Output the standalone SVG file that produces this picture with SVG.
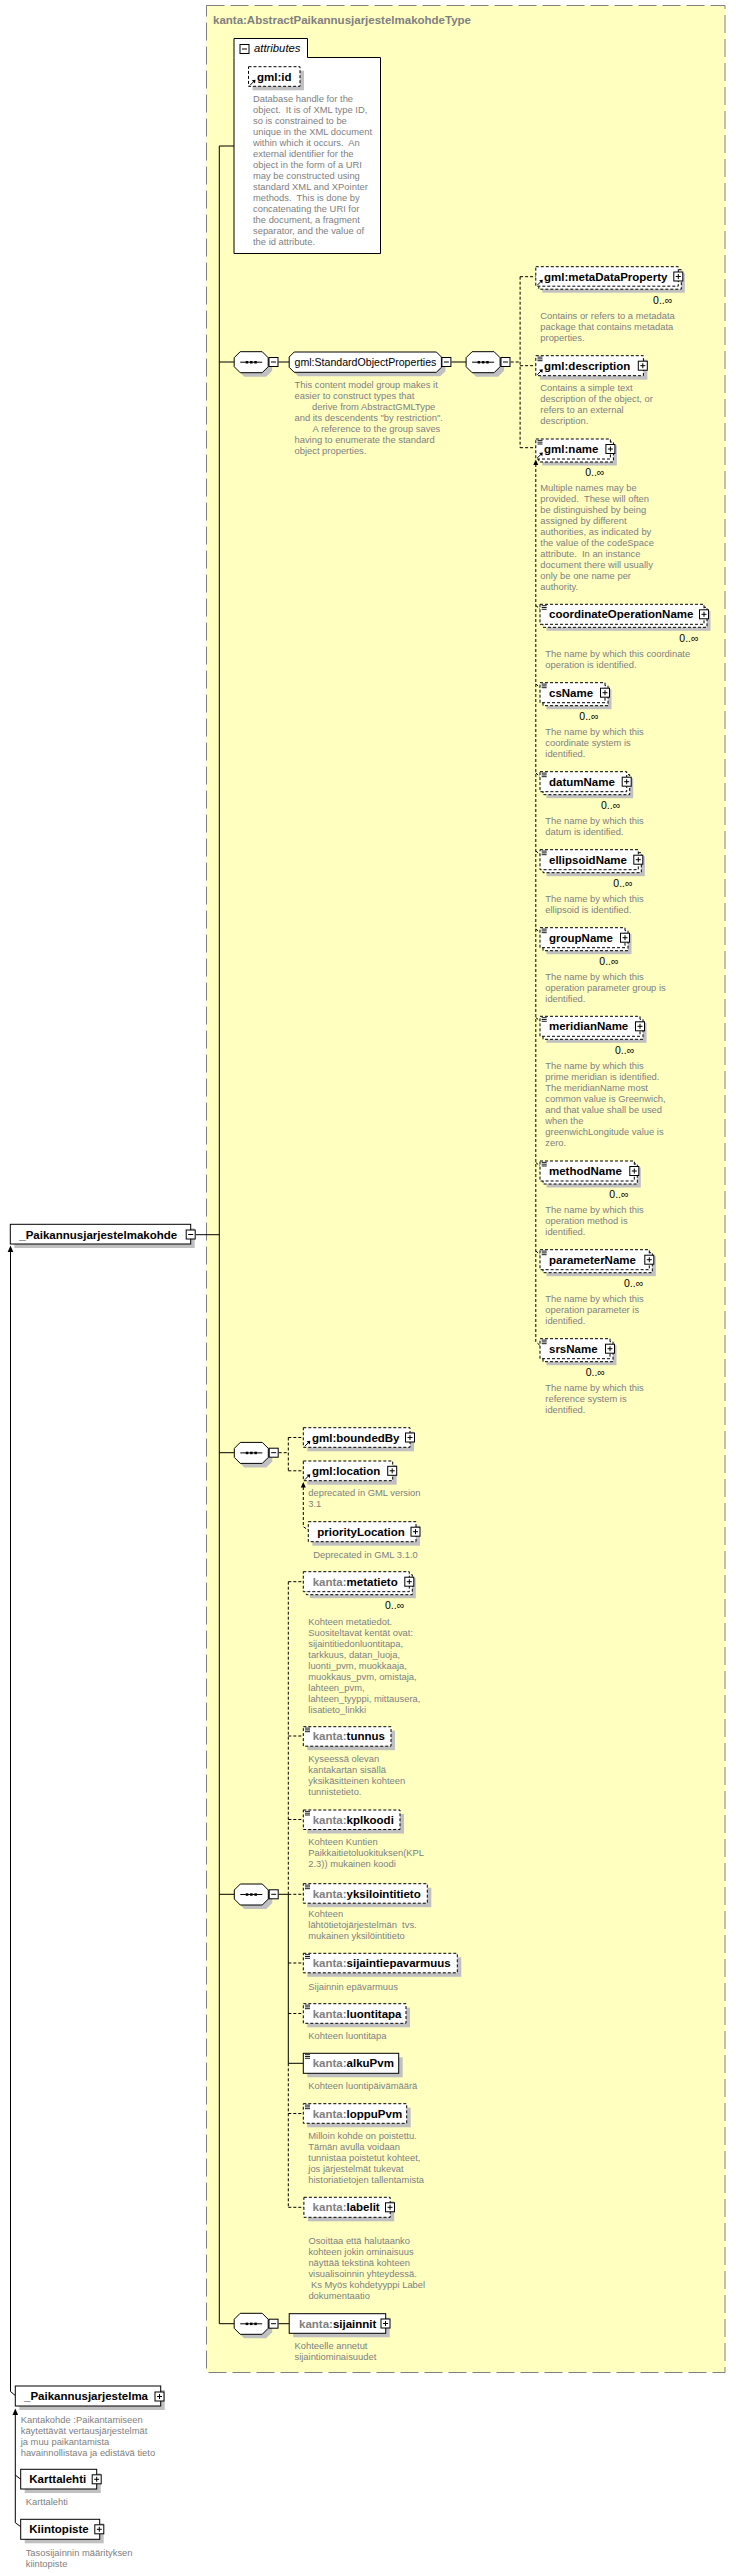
<svg xmlns="http://www.w3.org/2000/svg" width="736" height="2573" viewBox="0 0 736 2573">
<style>
text{font-family:"Liberation Sans",Arial,sans-serif}
.lbl{font-size:11.5px;font-weight:bold;fill:#000}
.pre{fill:#808080}
.grp{font-size:10.6px;fill:#000}
.doc{font-size:9.4px;fill:#808080;white-space:pre}
.mult{font-size:10.5px;fill:#000}
.hdr{font-size:11.5px;font-weight:bold;fill:#808080}
.att{font-size:11.3px;font-style:italic;fill:#000}
.bx{fill:#fff;stroke:#000;stroke-width:1}
.opt{stroke-dasharray:3 2}
.sh{fill:#c0c0c0}
.c{fill:none;stroke:#000;stroke-width:1}
.d{stroke-dasharray:3 2}
</style>
<defs>
<g id="plus"><rect x="0.5" y="0.5" width="9" height="9" fill="#fff" stroke="#000"/><path d="M2.5,5H7.5M5,2.5V7.5" stroke="#000"/></g>
<g id="minus"><rect x="0.5" y="0.5" width="9" height="9" fill="#fff" stroke="#000"/><path d="M2.5,5H7.5" stroke="#000"/></g>
<g id="seq"><polygon transform="translate(4,4)" points="6,0 28,0 34,6 34,15 28,21 6,21 0,15 0,6" fill="#c0c0c0"/><polygon points="6,0 28,0 34,6 34,15 28,21 6,21 0,15 0,6" fill="#fff" stroke="#000"/><path d="M6,10.5H28" stroke="#000"/><rect x="11.5" y="9.3" width="2.5" height="2.5"/><rect x="15.8" y="9.3" width="2.5" height="2.5"/><rect x="20.1" y="9.3" width="2.5" height="2.5"/></g>
<g id="ref"><path d="M0.5,6 L4.5,2" stroke="#000" fill="none"/><polygon points="6,0.5 2.3,1 5.5,4.2"/></g>
<g id="docic"><path d="M0,0.7H5M0,2.5H5M0,4.3H5" stroke="#000" stroke-width="0.9"/></g>
</defs>

<g id="typebox">
<rect x="206.5" y="5.5" width="518.5" height="2367" fill="#FFFFC0" stroke="#808080" stroke-dasharray="18 6"/>
<text class="hdr" x="213" y="23.5">kanta:AbstractPaikannusjarjestelmakohdeType</text>
</g>

<g id="connectors">
<path class="c" d="M234,146H219.3V2323.7H234.2"/>
<path class="c" d="M219.3,362H234.2M278.4,362H289.2M451.4,362H466.1"/>
<path class="c" d="M195.7,1234.7H219.3M219.3,1452.7H234.3M219.3,1894.3H234.3"/>
<path class="c" d="M278.7,1894.3H288.3V2063.3H303.3"/>
<path class="c" d="M278.4,2323.7H289.2"/>
<path class="c d" d="M510.7,362H520.1M520.1,276.7V447.7M520.1,276.7H535.8M520.1,365.7H535.8M520.1,447.7H535.8"/>
<path class="c d" d="M535.8,464V1341.7L540,1345.5M535.8,605.5L540,609M535.8,684L540,687.5M535.8,773L540,776.5M535.8,851L540,854.5M535.8,929L540,932.5M535.8,1017.5L540,1021M535.8,1162.5L540,1166M535.8,1251L540,1254.5"/>
<polygon points="535.8,459.5 533.3,465 538.3,465"/>
<path class="c d" d="M278.7,1452.7H288.3M288.3,1437.5V1470.8M288.3,1437.5H303.3M288.3,1470.8H303.3"/>
<path class="c d" d="M303.3,1487V1526.7L308.3,1530"/>
<polygon points="303.3,1482 300.8,1487.5 305.8,1487.5"/>
<path class="c d" d="M288.3,1581.7V1894.3M288.3,2063.3V2207.3M288.3,1581.7H303.3M288.3,1736H303.3M288.3,1819.5H303.3M288.3,1894.3H303.3M288.3,1963H303.3M288.3,2013.5H303.3M288.3,2113.5H303.3M288.3,2207.3H303.9"/>
<path class="c" d="M10.5,1250V2391.5L15.3,2395.5"/>
<polygon points="10.5,1245.5 7.7,1252 13.3,1252"/>
<path class="c" d="M15.3,2414V2522.7L20.7,2526.7M15.3,2475L20.7,2479.3"/>
<polygon points="15.3,2408.5 12.5,2415 18.1,2415"/>
</g>

<g id="attributes">
<path class="bx" d="M234,57.5V38.5H307.5V57.5H380.5V253.5H234Z"/>
<use href="#minus" x="239.5" y="44"/>
<text class="att" x="254" y="52">attributes</text>
</g>

<g id="n-gml-id">
<rect class="sh" x="252.5" y="70.7" width="51.5" height="19.6"/>
<rect class="bx opt" x="248.5" y="66.7" width="51.5" height="19.6"/>
<use href="#ref" x="249.5" y="79.3"/>
<text class="lbl" x="257" y="80.7">gml:id</text>
<text class="doc" x="253" y="101.8"><tspan x="253" dy="0">Database handle for the</tspan><tspan x="253" dy="11">object.  It is of XML type ID,</tspan><tspan x="253" dy="11">so is constrained to be</tspan><tspan x="253" dy="11">unique in the XML document</tspan><tspan x="253" dy="11">within which it occurs.  An</tspan><tspan x="253" dy="11">external identifier for the</tspan><tspan x="253" dy="11">object in the form of a URI</tspan><tspan x="253" dy="11">may be constructed using</tspan><tspan x="253" dy="11">standard XML and XPointer</tspan><tspan x="253" dy="11">methods.  This is done by</tspan><tspan x="253" dy="11">concatenating the URI for</tspan><tspan x="253" dy="11">the document, a fragment</tspan><tspan x="253" dy="11">separator, and the value of</tspan><tspan x="253" dy="11">the id attribute.</tspan></text>
</g>

<g id="seq1">
<use href="#seq" x="234.2" y="351.7"/>
<use href="#minus" x="268.5" y="357"/>
</g>

<g id="n-StandardObjectProperties">
<polygon transform="translate(4,4)" class="sh" points="294.2,352 436.4,352 441.4,357 441.4,367.3 436.4,372.3 294.2,372.3 289.2,367.3 289.2,357"/>
<polygon class="bx" points="294.2,352 436.4,352 441.4,357 441.4,367.3 436.4,372.3 294.2,372.3 289.2,367.3 289.2,357"/>
<use href="#minus" x="441.4" y="357"/>
<text class="grp" x="294.5" y="366">gml:StandardObjectProperties</text>
<text class="doc" x="294.5" y="388.2"><tspan x="294.5" dy="0">This content model group makes it</tspan><tspan x="294.5" dy="11">easier to construct types that</tspan><tspan x="312" dy="11">derive from AbstractGMLType</tspan><tspan x="294.5" dy="11">and its descendents "by restriction".</tspan><tspan x="312.6" dy="11">A reference to the group saves</tspan><tspan x="294.5" dy="11">having to enumerate the standard</tspan><tspan x="294.5" dy="11">object properties.</tspan></text>
</g>

<g id="seq2">
<use href="#seq" x="466.1" y="351.7"/>
<use href="#minus" x="500.5" y="357"/>
</g>

<g id="n-metaDataProperty">
<rect class="sh" x="542.3" y="273.2" width="142.5" height="19.5"/>
<rect class="bx opt" x="538.8" y="269.7" width="142.5" height="19.5"/>
<rect class="bx opt" x="535.8" y="266.7" width="142.5" height="19.5"/>
<use href="#ref" x="536.8" y="279.2"/>
<use href="#plus" x="673.3" y="271.5"/>
<text class="lbl" x="544.1" y="280.7">gml:metaDataProperty</text>
<text class="mult" x="653.1" y="303.8">0..∞</text>
<text class="doc" x="540.3" y="318.8"><tspan x="540.3" dy="0">Contains or refers to a metadata</tspan><tspan x="540.3" dy="11">package that contains metadata</tspan><tspan x="540.3" dy="11">properties.</tspan></text>
</g>

<g id="n-description">
<rect class="sh" x="539.8" y="359.7" width="107.6" height="20"/>
<rect class="bx opt" x="535.8" y="355.7" width="107.6" height="20"/>
<use href="#docic" x="537.5" y="356.4"/>
<use href="#ref" x="536.8" y="368.7"/>
<use href="#plus" x="637.8" y="360.7"/>
<text class="lbl" x="544.1" y="369.7">gml:description</text>
<text class="doc" x="540.3" y="391.2"><tspan x="540.3" dy="0">Contains a simple text</tspan><tspan x="540.3" dy="11">description of the object, or</tspan><tspan x="540.3" dy="11">refers to an external</tspan><tspan x="540.3" dy="11">description.</tspan></text>
</g>

<g id="n-name">
<rect class="sh" x="542.3" y="445.5" width="74.6" height="20"/>
<rect class="bx opt" x="538.8" y="442" width="74.6" height="20"/>
<rect class="bx opt" x="535.8" y="439" width="74.6" height="20"/>
<use href="#docic" x="537.5" y="439.7"/>
<use href="#ref" x="536.8" y="452"/>
<use href="#plus" x="605.4" y="444"/>
<text class="lbl" x="544.1" y="453">gml:name</text>
<text class="mult" x="585.2" y="476.1">0..∞</text>
<text class="doc" x="540.3" y="491.2"><tspan x="540.3" dy="0">Multiple names may be</tspan><tspan x="540.3" dy="11">provided.  These will often</tspan><tspan x="540.3" dy="11">be distinguished by being</tspan><tspan x="540.3" dy="11">assigned by different</tspan><tspan x="540.3" dy="11">authorities, as indicated by</tspan><tspan x="540.3" dy="11">the value of the codeSpace</tspan><tspan x="540.3" dy="11">attribute.  In an instance</tspan><tspan x="540.3" dy="11">document there will usually</tspan><tspan x="540.3" dy="11">only be one name per</tspan><tspan x="540.3" dy="11">authority.</tspan></text>
</g>

<g id="n-coordinateOperationName">
<rect class="sh" x="546.5" y="610.8" width="164" height="20"/>
<rect class="bx opt" x="543" y="607.3" width="164" height="20"/>
<rect class="bx opt" x="540" y="604.3" width="164" height="20"/>
<use href="#docic" x="541.7" y="605"/>
<use href="#plus" x="699" y="609.3"/>
<text class="lbl" x="549" y="618.3">coordinateOperationName</text>
<text class="mult" x="679.3" y="642.1">0..∞</text>
<text class="doc" x="545.3" y="656.8"><tspan x="545.3" dy="0">The name by which this coordinate</tspan><tspan x="545.3" dy="11">operation is identified.</tspan></text>
</g>

<g id="n-csName">
<rect class="sh" x="546.5" y="689.2" width="65" height="20"/>
<rect class="bx opt" x="543" y="685.7" width="65" height="20"/>
<rect class="bx opt" x="540" y="682.7" width="65" height="20"/>
<use href="#docic" x="541.7" y="683.4"/>
<use href="#plus" x="600" y="687.7"/>
<text class="lbl" x="549" y="696.7">csName</text>
<text class="mult" x="579.3" y="719.5">0..∞</text>
<text class="doc" x="545.3" y="735.2"><tspan x="545.3" dy="0">The name by which this</tspan><tspan x="545.3" dy="11">coordinate system is</tspan><tspan x="545.3" dy="11">identified.</tspan></text>
</g>

<g id="n-datumName">
<rect class="sh" x="546.5" y="778.2" width="86.7" height="20"/>
<rect class="bx opt" x="543" y="774.7" width="86.7" height="20"/>
<rect class="bx opt" x="540" y="771.7" width="86.7" height="20"/>
<use href="#docic" x="541.7" y="772.4"/>
<use href="#plus" x="621.7" y="776.7"/>
<text class="lbl" x="549" y="785.7">datumName</text>
<text class="mult" x="601" y="808.8">0..∞</text>
<text class="doc" x="545.3" y="823.8"><tspan x="545.3" dy="0">The name by which this</tspan><tspan x="545.3" dy="11">datum is identified.</tspan></text>
</g>

<g id="n-ellipsoidName">
<rect class="sh" x="546.5" y="856.2" width="98.3" height="20"/>
<rect class="bx opt" x="543" y="852.7" width="98.3" height="20"/>
<rect class="bx opt" x="540" y="849.7" width="98.3" height="20"/>
<use href="#docic" x="541.7" y="850.4"/>
<use href="#plus" x="633.3" y="854.7"/>
<text class="lbl" x="549" y="863.7">ellipsoidName</text>
<text class="mult" x="613.3" y="886.8">0..∞</text>
<text class="doc" x="545.3" y="901.8"><tspan x="545.3" dy="0">The name by which this</tspan><tspan x="545.3" dy="11">ellipsoid is identified.</tspan></text>
</g>

<g id="n-groupName">
<rect class="sh" x="546.5" y="934.2" width="85" height="20"/>
<rect class="bx opt" x="543" y="930.7" width="85" height="20"/>
<rect class="bx opt" x="540" y="927.7" width="85" height="20"/>
<use href="#docic" x="541.7" y="928.4"/>
<use href="#plus" x="620" y="932.7"/>
<text class="lbl" x="549" y="941.7">groupName</text>
<text class="mult" x="599.3" y="964.8">0..∞</text>
<text class="doc" x="545.3" y="980.2"><tspan x="545.3" dy="0">The name by which this</tspan><tspan x="545.3" dy="11">operation parameter group is</tspan><tspan x="545.3" dy="11">identified.</tspan></text>
</g>

<g id="n-meridianName">
<rect class="sh" x="546.5" y="1022.8" width="100" height="20"/>
<rect class="bx opt" x="543" y="1019.3" width="100" height="20"/>
<rect class="bx opt" x="540" y="1016.3" width="100" height="20"/>
<use href="#docic" x="541.7" y="1017"/>
<use href="#plus" x="635" y="1021.3"/>
<text class="lbl" x="549" y="1030.3">meridianName</text>
<text class="mult" x="615" y="1053.8">0..∞</text>
<text class="doc" x="545.3" y="1069.2"><tspan x="545.3" dy="0">The name by which this</tspan><tspan x="545.3" dy="11">prime meridian is identified.</tspan><tspan x="545.3" dy="11">The meridianName most</tspan><tspan x="545.3" dy="11">common value is Greenwich,</tspan><tspan x="545.3" dy="11">and that value shall be used</tspan><tspan x="545.3" dy="11">when the</tspan><tspan x="545.3" dy="11">greenwichLongitude value is</tspan><tspan x="545.3" dy="11">zero.</tspan></text>
</g>

<g id="n-methodName">
<rect class="sh" x="546.5" y="1167.5" width="94.3" height="20"/>
<rect class="bx opt" x="543" y="1164" width="94.3" height="20"/>
<rect class="bx opt" x="540" y="1161" width="94.3" height="20"/>
<use href="#docic" x="541.7" y="1161.7"/>
<use href="#plus" x="629.3" y="1166"/>
<text class="lbl" x="549" y="1175">methodName</text>
<text class="mult" x="609.3" y="1197.8">0..∞</text>
<text class="doc" x="545.3" y="1212.8"><tspan x="545.3" dy="0">The name by which this</tspan><tspan x="545.3" dy="11">operation method is</tspan><tspan x="545.3" dy="11">identified.</tspan></text>
</g>

<g id="n-parameterName">
<rect class="sh" x="546.5" y="1256.2" width="109.3" height="20"/>
<rect class="bx opt" x="543" y="1252.7" width="109.3" height="20"/>
<rect class="bx opt" x="540" y="1249.7" width="109.3" height="20"/>
<use href="#docic" x="541.7" y="1250.4"/>
<use href="#plus" x="644.3" y="1254.7"/>
<text class="lbl" x="549" y="1263.7">parameterName</text>
<text class="mult" x="624" y="1286.5">0..∞</text>
<text class="doc" x="545.3" y="1301.8"><tspan x="545.3" dy="0">The name by which this</tspan><tspan x="545.3" dy="11">operation parameter is</tspan><tspan x="545.3" dy="11">identified.</tspan></text>
</g>

<g id="n-srsName">
<rect class="sh" x="546.5" y="1345.2" width="70" height="20"/>
<rect class="bx opt" x="543" y="1341.7" width="70" height="20"/>
<rect class="bx opt" x="540" y="1338.7" width="70" height="20"/>
<use href="#docic" x="541.7" y="1339.4"/>
<use href="#plus" x="605" y="1343.7"/>
<text class="lbl" x="549" y="1352.7">srsName</text>
<text class="mult" x="585.7" y="1375.5">0..∞</text>
<text class="doc" x="545.3" y="1390.8"><tspan x="545.3" dy="0">The name by which this</tspan><tspan x="545.3" dy="11">reference system is</tspan><tspan x="545.3" dy="11">identified.</tspan></text>
</g>

<g id="n-Paikannusjarjestelmakohde">
<rect class="sh" x="14.3" y="1228.3" width="180.4" height="19.7"/>
<rect class="bx" x="10.3" y="1224.3" width="180.4" height="19.7"/>
<use href="#minus" x="185.7" y="1229.5"/>
<text class="lbl" x="19.3" y="1238.5">_Paikannusjarjestelmakohde</text>
</g>

<g id="seq3">
<use href="#seq" x="234.3" y="1442.4"/>
<use href="#minus" x="268.7" y="1447.7"/>
</g>

<g id="n-boundedBy">
<rect class="sh" x="307.3" y="1431.7" width="106.7" height="19.6"/>
<rect class="bx opt" x="303.3" y="1427.7" width="106.7" height="19.6"/>
<use href="#ref" x="304.3" y="1440.3"/>
<use href="#plus" x="405" y="1432.5"/>
<text class="lbl" x="312" y="1441.6">gml:boundedBy</text>
</g>

<g id="n-location">
<rect class="sh" x="307.3" y="1465" width="89.4" height="19.7"/>
<rect class="bx opt" x="303.3" y="1461" width="89.4" height="19.7"/>
<use href="#ref" x="304.3" y="1473.7"/>
<use href="#plus" x="387.2" y="1465.8"/>
<text class="lbl" x="312" y="1475">gml:location</text>
<text class="doc" x="308.3" y="1495.8"><tspan x="308.3" dy="0">deprecated in GML version</tspan><tspan x="308.3" dy="11">3.1</tspan></text>
</g>

<g id="n-priorityLocation">
<rect class="sh" x="312.3" y="1525.7" width="107.7" height="20"/>
<rect class="bx opt" x="308.3" y="1521.7" width="107.7" height="20"/>
<use href="#plus" x="410.5" y="1526.7"/>
<text class="lbl" x="317.3" y="1535.7">priorityLocation</text>
<text class="doc" x="313.3" y="1557.5">Deprecated in GML 3.1.0</text>
</g>

<g id="n-metatieto">
<rect class="sh" x="309.8" y="1578.2" width="106" height="20"/>
<rect class="bx opt" x="306.3" y="1574.7" width="106" height="20"/>
<rect class="bx opt" x="303.3" y="1571.7" width="106" height="20"/>
<use href="#plus" x="404.3" y="1576.7"/>
<text class="lbl" x="312.7" y="1585.7"><tspan class="pre">kanta:</tspan>metatieto</text>
<text class="mult" x="385" y="1608.8">0..∞</text>
<text class="doc" x="308.3" y="1624.5"><tspan x="308.3" dy="0">Kohteen metatiedot.</tspan><tspan x="308.3" dy="11">Suositeltavat kentät ovat:</tspan><tspan x="308.3" dy="11">sijaintitiedonluontitapa,</tspan><tspan x="308.3" dy="11">tarkkuus, datan_luoja,</tspan><tspan x="308.3" dy="11">luonti_pvm, muokkaaja,</tspan><tspan x="308.3" dy="11">muokkaus_pvm, omistaja,</tspan><tspan x="308.3" dy="11">lahteen_pvm,</tspan><tspan x="308.3" dy="11">lahteen_tyyppi, mittausera,</tspan><tspan x="308.3" dy="11">lisatieto_linkki</tspan></text>
</g>

<g id="n-tunnus">
<rect class="sh" x="307.3" y="1730.7" width="87.7" height="19.5"/>
<rect class="bx opt" x="303.3" y="1726.7" width="87.7" height="19.5"/>
<use href="#docic" x="305" y="1727.4"/>
<text class="lbl" x="312.7" y="1740.3"><tspan class="pre">kanta:</tspan>tunnus</text>
<text class="doc" x="308.3" y="1762.2"><tspan x="308.3" dy="0">Kyseessä olevan</tspan><tspan x="308.3" dy="11">kantakartan sisällä</tspan><tspan x="308.3" dy="11">yksikäsitteinen kohteen</tspan><tspan x="308.3" dy="11">tunnistetieto.</tspan></text>
</g>

<g id="n-kplkoodi">
<rect class="sh" x="307.3" y="1814" width="96.7" height="19.5"/>
<rect class="bx opt" x="303.3" y="1810" width="96.7" height="19.5"/>
<use href="#docic" x="305" y="1810.7"/>
<text class="lbl" x="312.7" y="1823.7"><tspan class="pre">kanta:</tspan>kplkoodi</text>
<text class="doc" x="308.3" y="1844.8"><tspan x="308.3" dy="0">Kohteen Kuntien</tspan><tspan x="308.3" dy="11">Paikkaitietoluokituksen(KPL</tspan><tspan x="308.3" dy="11">2.3)) mukainen koodi</tspan></text>
</g>

<g id="seq4">
<use href="#seq" x="234.3" y="1884"/>
<use href="#minus" x="268.7" y="1889.3"/>
</g>

<g id="n-yksilointitieto">
<rect class="sh" x="307.3" y="1887.7" width="124" height="19.5"/>
<rect class="bx opt" x="303.3" y="1883.7" width="124" height="19.5"/>
<use href="#docic" x="305" y="1884.4"/>
<text class="lbl" x="312.7" y="1897.5"><tspan class="pre">kanta:</tspan>yksilointitieto</text>
<text class="doc" x="308.3" y="1917.2"><tspan x="308.3" dy="0">Kohteen</tspan><tspan x="308.3" dy="11">lähtötietojärjestelmän  tvs.</tspan><tspan x="308.3" dy="11">mukainen yksilöintitieto</tspan></text>
</g>

<g id="n-sijaintiepavarmuus">
<rect class="sh" x="307.3" y="1957.3" width="154" height="19.5"/>
<rect class="bx opt" x="303.3" y="1953.3" width="154" height="19.5"/>
<use href="#docic" x="305" y="1954"/>
<text class="lbl" x="312.7" y="1967"><tspan class="pre">kanta:</tspan>sijaintiepavarmuus</text>
<text class="doc" x="308.3" y="1989.5">Sijainnin epävarmuus</text>
</g>

<g id="n-luontitapa">
<rect class="sh" x="307.3" y="2007.7" width="102.7" height="19.6"/>
<rect class="bx opt" x="303.3" y="2003.7" width="102.7" height="19.6"/>
<use href="#docic" x="305" y="2004.4"/>
<text class="lbl" x="312.7" y="2017.5"><tspan class="pre">kanta:</tspan>luontitapa</text>
<text class="doc" x="308.3" y="2038.8">Kohteen luontitapa</text>
</g>

<g id="n-alkuPvm">
<rect class="sh" x="307.3" y="2057.3" width="95.4" height="20"/>
<rect class="bx" x="303.3" y="2053.3" width="95.4" height="20"/>
<use href="#docic" x="305" y="2054"/>
<text class="lbl" x="312.7" y="2067.3"><tspan class="pre">kanta:</tspan>alkuPvm</text>
<text class="doc" x="308.3" y="2089.2">Kohteen luontipäivämäärä</text>
</g>

<g id="n-loppuPvm">
<rect class="sh" x="307.3" y="2107.7" width="103.4" height="19.6"/>
<rect class="bx opt" x="303.3" y="2103.7" width="103.4" height="19.6"/>
<use href="#docic" x="305" y="2104.4"/>
<text class="lbl" x="312.7" y="2117.5"><tspan class="pre">kanta:</tspan>loppuPvm</text>
<text class="doc" x="308.3" y="2139"><tspan x="308.3" dy="0">Milloin kohde on poistettu.</tspan><tspan x="308.3" dy="10.9">Tämän avulla voidaan</tspan><tspan x="308.3" dy="10.9">tunnistaa poistetut kohteet,</tspan><tspan x="308.3" dy="10.9">jos järjestelmät tukevat</tspan><tspan x="308.3" dy="10.9">historiatietojen tallentamista</tspan></text>
</g>

<g id="n-labelit">
<rect class="sh" x="307.9" y="2201.3" width="86.3" height="20"/>
<rect class="bx opt" x="303.9" y="2197.3" width="86.3" height="20"/>
<use href="#plus" x="385" y="2202.3"/>
<text class="lbl" x="312.6" y="2211.3"><tspan class="pre">kanta:</tspan>labelit</text>
<text class="doc" x="308.4" y="2244.2"><tspan x="308.4" dy="0">Osoittaa että halutaanko</tspan><tspan x="308.4" dy="11">kohteen jokin ominaisuus</tspan><tspan x="308.4" dy="11">näyttää tekstinä kohteen</tspan><tspan x="308.4" dy="11">visualisoinnin yhteydessä.</tspan><tspan x="308.4" dy="11"> Ks Myös kohdetyyppi Label</tspan><tspan x="308.4" dy="11">dokumentaatio</tspan></text>
</g>

<g id="seq5">
<use href="#seq" x="234.2" y="2313.3"/>
<use href="#minus" x="268.5" y="2318.7"/>
</g>

<g id="n-sijainnit">
<rect class="sh" x="293.2" y="2317.7" width="96.5" height="19.6"/>
<rect class="bx" x="289.2" y="2313.7" width="96.5" height="19.6"/>
<use href="#plus" x="380.5" y="2318.5"/>
<text class="lbl" x="299" y="2327.7"><tspan class="pre">kanta:</tspan>sijainnit</text>
<text class="doc" x="294.5" y="2349.2"><tspan x="294.5" dy="0">Kohteelle annetut</tspan><tspan x="294.5" dy="11">sijaintiominaisuudet</tspan></text>
</g>

<g id="n-Paikannusjarjestelma">
<rect class="sh" x="19.3" y="2390" width="145.4" height="20"/>
<rect class="bx" x="15.3" y="2386" width="145.4" height="20"/>
<use href="#plus" x="154.5" y="2391.5"/>
<text class="lbl" x="24" y="2400">_Paikannusjarjestelma</text>
<text class="doc" x="20.7" y="2422.5"><tspan x="20.7" dy="0">Kantakohde :Paikantamiseen</tspan><tspan x="20.7" dy="11">käytettävät vertausjärjestelmät</tspan><tspan x="20.7" dy="11">ja muu paikantamista</tspan><tspan x="20.7" dy="11">havainnollistava ja edistävä tieto</tspan></text>
</g>

<g id="n-Karttalehti">
<rect class="sh" x="24.7" y="2473.3" width="76" height="19.7"/>
<rect class="bx" x="20.7" y="2469.3" width="76" height="19.7"/>
<use href="#plus" x="91.7" y="2474.3"/>
<text class="lbl" x="29.3" y="2483.3">Karttalehti</text>
<text class="doc" x="25.7" y="2505.2">Karttalehti</text>
</g>

<g id="n-Kiintopiste">
<rect class="sh" x="24.7" y="2523.3" width="79" height="20"/>
<rect class="bx" x="20.7" y="2519.3" width="79" height="20"/>
<use href="#plus" x="94.3" y="2524.3"/>
<text class="lbl" x="29.3" y="2533.3">Kiintopiste</text>
<text class="doc" x="25.7" y="2555.8"><tspan x="25.7" dy="0">Tasosijainnin määrityksen</tspan><tspan x="25.7" dy="11">kiintopiste</tspan></text>
</g>
</svg>
